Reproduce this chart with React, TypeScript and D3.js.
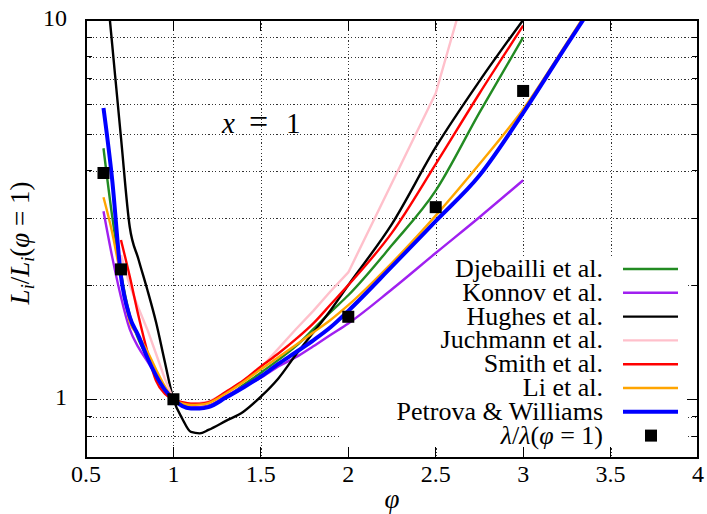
import * as d3 from "d3";

// equivalence ratio grid shared by all series
const phi = [0.6, 0.65, 0.7, 0.75, 0.8, 0.85, 0.9, 0.95, 1.0, 1.05, 1.1, 1.15, 1.2, 1.3, 1.4, 1.5, 1.6, 1.7, 1.8, 1.9, 2.0, 2.25, 2.5, 2.75, 3.0, 3.25, 3.5];

const djebailli = [4.59, 3.03, 2.15, 1.67, 1.44, 1.29, 1.16, 1.06, 1.0, 0.962, 0.95, 0.952, 0.962, 1.01, 1.09, 1.175, 1.27, 1.38, 1.53, 1.7, 1.88, 2.55, 3.55, 5.7, 9.0, null, null];
const konnov = [3.13, 2.37, 1.86, 1.53, 1.37, 1.26, 1.16, 1.06, 1.0, 0.965, 0.955, 0.953, 0.96, 1.02, 1.08, 1.14, 1.22, 1.29, 1.38, 1.48, 1.585, 1.95, 2.43, 3.02, 3.78, null, null];
const hughes = [15.1, 8.6, 4.9, 2.85, 2.34, 1.95, 1.6, 1.26, 1.0, 0.89, 0.82, 0.813, 0.83, 0.877, 0.927, 1.016, 1.135, 1.31, 1.5, 1.72, 2.0, 2.9, 4.62, 6.9, 10.0, null, null];
const juchmann = [null, null, 2.4, 2.0, 1.74, 1.53, 1.32, 1.135, 1.0, 0.98, 0.975, 0.978, 0.985, 1.04, 1.12, 1.21, 1.36, 1.53, 1.71, 1.93, 2.16, null, 6.41, null, 41, null, null];
const smith = [null, null, 2.63, 2.11, 1.66, 1.34, 1.12, 1.035, 1.0, 0.982, 0.973, 0.974, 0.982, 1.047, 1.12, 1.22, 1.32, 1.44, 1.585, 1.78, 2.0, 2.75, 4.17, 6.4, 9.66, null, null];
const li = [3.41, 2.75, 2.09, 1.6, 1.47, 1.34, 1.2, 1.084, 1.0, 0.975, 0.966, 0.968, 0.977, 1.035, 1.11, 1.2, 1.29, 1.39, 1.5, 1.62, 1.77, 2.29, 3.05, 4.17, 5.82, 8.7, 13.2];
const petrova = [5.86, 3.78, 2.11, 1.65, 1.47, 1.29, 1.156, 1.06, 1.0, 0.96, 0.946, 0.945, 0.953, 1.01, 1.074, 1.148, 1.24, 1.33, 1.43, 1.55, 1.71, 2.24, 2.95, 3.89, 5.69, 8.6, 12.9];

const lambdaPhi = [0.6, 0.7, 1.0, 2.0, 2.5, 3.0];
const lambdaVal = [3.95, 2.2, 1.0, 1.65, 3.21, 6.5];

const seriesNames = ["Djebailli et al.", "Konnov et al.", "Hughes et al.", "Juchmann et al.", "Smith et al.", "Li et al.", "Petrova & Williams"];
const seriesValues = [djebailli, konnov, hughes, juchmann, smith, li, petrova];
const seriesColors = ["#228b22", "#a020f0", "#000000", "#ffc0cb", "#ff0000", "#ffa500", "#0000ff"];

const xTicks = [0.5, 1, 1.5, 2, 2.5, 3, 3.5, 4];
const yGrid = [0.8, 0.9, 1, 2, 3, 4, 5, 6, 7, 8, 9];
const yMajor = [1, 10];

const FAMILY = "Liberation Serif";

const width = 707;
const height = 514;
const margin = { top: 20, bottom: 56, left: 86, right: 9 };

const x = d3.scaleLinear([0.5, 4], [margin.left, width - margin.right]);
const y = d3.scaleLog([0.7, 10], [height - margin.bottom, margin.top]);
const [x0, x1] = x.range();
const [y0, y1] = y.range();
const rowY = (k) => 269 + k * 23.8;

const App = () => {
  const paths = seriesValues.map((vals, i) => {
    const pts = phi.map((p, k) => [p, vals[k]]).filter((d) => d[1] != null);
    const line = d3.line()
      .x((d) => x(d[0]))
      .y((d) => y(d[1]))
      .curve(i === 3 ? d3.curveLinear : d3.curveMonotoneX);
    return line(pts);
  });

  return (
    <svg width={width} height={height} fontFamily={FAMILY}
      style={{ position: "absolute", left: 0, top: 0, background: "white" }}>
      <defs>
        <clipPath id="plotclip">
          <rect x={x0} y={y1} width={x1 - x0} height={y0 - y1} />
        </clipPath>
      </defs>

      {/* grid */}
      <g stroke="#333" strokeWidth={1} strokeDasharray="1.2,2.2" shapeRendering="crispEdges">
        {yGrid.map((d) => (
          <line key={"h" + d} x1={x0} x2={x1} y1={Math.round(y(d)) + 0.5} y2={Math.round(y(d)) + 0.5} />
        ))}
        {xTicks.slice(1, -1).map((d) => (
          <line key={"v" + d} x1={Math.round(x(d)) + 0.5} x2={Math.round(x(d)) + 0.5} y1={y1} y2={y0} />
        ))}
      </g>

      {/* opaque key box */}
      <rect x={339} y={258} width={347} height={189} fill="white" />

      <g clipPath="url(#plotclip)">
        {paths.map((d, i) => (
          <path key={i} d={d} fill="none" stroke={seriesColors[i]}
            strokeWidth={i === 6 ? 4 : 2.4} strokeLinejoin="round" />
        ))}
        {lambdaPhi.map((p, k) => (
          <rect key={k} x={x(p) - 6} y={y(lambdaVal[k]) - 6} width={12} height={12} fill="black" />
        ))}
      </g>

      {/* legend */}
      {seriesNames.map((name, k) => (
        <g key={name}>
          <text x={603} y={rowY(k) + 8} textAnchor="end" fontSize={26} fontFamily={FAMILY}>{name}</text>
          <line x1={623} x2={678} y1={rowY(k)} y2={rowY(k)} stroke={seriesColors[k]} strokeWidth={k === 6 ? 4 : 2.4} />
        </g>
      ))}
      <text x={603} y={rowY(7) + 8} textAnchor="end" fontSize={26} fontFamily={FAMILY}>
        <tspan fontStyle="italic">λ</tspan>/<tspan fontStyle="italic">λ</tspan>(<tspan fontStyle="italic">φ</tspan> = 1)
      </text>
      <rect x={645} y={rowY(7) - 6} width={12} height={12} fill="black" />

      {/* border and ticks */}
      <g stroke="black" shapeRendering="crispEdges">
        <rect x={x0} y={y1} width={x1 - x0} height={y0 - y1} fill="none" strokeWidth={1.5} />
        {xTicks.map((t) => (
          <g key={"xt" + t}>
            <line x1={x(t)} x2={x(t)} y1={y0} y2={y0 - 11} />
            <line x1={x(t)} x2={x(t)} y1={y1} y2={y1 + 11} />
          </g>
        ))}
        {yGrid.concat(yMajor).map((t) => {
          const len = yMajor.includes(t) ? 11 : 6;
          return (
            <g key={"yt" + t}>
              <line x1={x0} x2={x0 + len} y1={y(t)} y2={y(t)} />
              <line x1={x1} x2={x1 - len} y1={y(t)} y2={y(t)} />
            </g>
          );
        })}
      </g>

      {/* tick labels */}
      {xTicks.map((t) => (
        <text key={"xl" + t} x={x(t)} y={482} textAnchor="middle" fontSize={24} fontFamily={FAMILY}>{String(t)}</text>
      ))}
      {yMajor.map((t) => (
        <text key={"yl" + t} x={67} y={y(t) + 6} textAnchor="end" fontSize={24} fontFamily={FAMILY}>{String(t)}</text>
      ))}

      {/* axis titles */}
      <text x={(x0 + x1) / 2} y={508} textAnchor="middle" fontSize={27} fontStyle="italic" fontFamily={FAMILY}>φ</text>
      <text transform={`translate(29, ${(y0 + y1) / 2 + 4}) rotate(-90)`} textAnchor="middle" fontSize={27} fontFamily={FAMILY}>
        <tspan fontStyle="italic">L</tspan>
        <tspan fontStyle="italic" fontSize={18} dy={5}>i</tspan>
        <tspan dy={-5}>/</tspan>
        <tspan fontStyle="italic">L</tspan>
        <tspan fontStyle="italic" fontSize={18} dy={5}>i</tspan>
        <tspan dy={-5}>(</tspan>
        <tspan fontStyle="italic">φ</tspan>
        <tspan> = 1)</tspan>
      </text>

      <text y={133} fontSize={29} fontFamily={FAMILY}>
        <tspan x={222} fontStyle="italic">x</tspan>
        <tspan x={249} fontSize={34}>=</tspan>
        <tspan x={286}>1</tspan>
      </text>
    </svg>
  );
};

export default App;
